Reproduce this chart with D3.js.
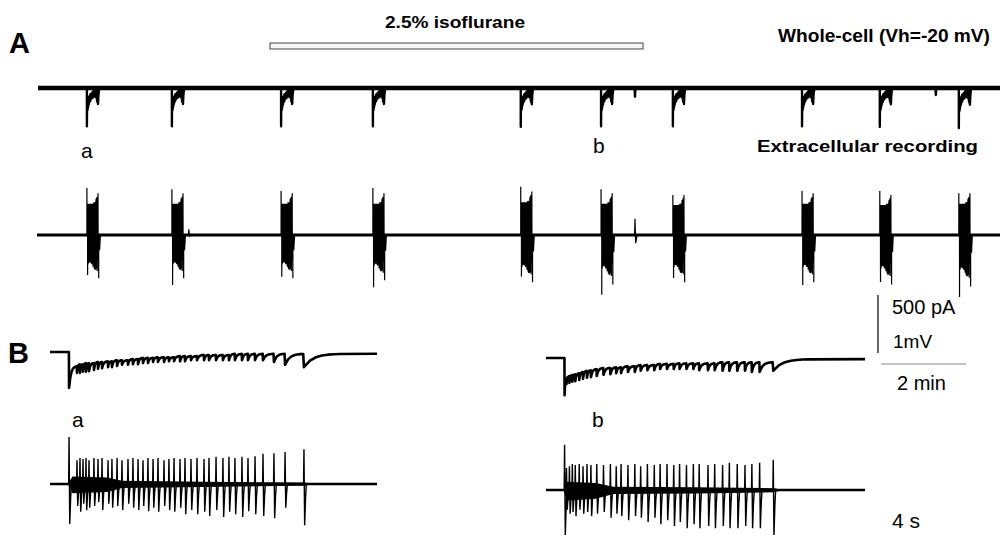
<!DOCTYPE html>
<html>
<head>
<meta charset="utf-8">
<script src="https://cdn.jsdelivr.net/npm/d3@7"></script>
<style>
  body { margin: 0; background: #fff; }
  text { font-family: "Liberation Sans", Arial, sans-serif; fill: #000; }
</style>
</head>
<body>
<script>
// ---- panel A: time in minutes ----
const traceEndA = 22.64;
const isoflurane = [5.46, 14.24];
const eventTimesA = [1.15, 3.15, 5.72, 7.88, 11.36, 13.25, 14.94, 17.98, 19.81, 21.67];
const wcTroughA = [-330, -330, -330, -330, -335, -330, -330, -330, -335, -345]; // pA
const ecFirstUpA = [0.81, 0.79, 0.76, 0.81, 0.83, 0.79, 0.69, 0.76, 0.76, 0.72]; // mV
const ecFirstDownA = [0.69, 0.86, 0.72, 0.90, 0.72, 1.03, 0.74, 0.86, 0.81, 1.07];
const ecBlockUpA = [1.2, 1.2, 1.2, 1.2, 1.25, 1.2, 1.15, 1.2, 1.15, 1.2];
const ecBlockDownA = [1.05, 1.05, 1.05, 1.1, 1.15, 1.2, 1.15, 1.15, 1.2, 1.25];
const wcArtifactsA = [[14.05, -75], [21.13, -60]];
const ecArtifactsA = [[3.55, 0.1, 0.02], [14.05, 0.28, 0.14]];

// ---- panel B: time in seconds from burst onset ----
const traceSpanB = [-1.2, 20.6];
const spikeTimesBa = [0.07, 0.60, 0.80, 1.00, 1.20, 1.40, 1.73, 2.00, 2.27, 2.67, 2.93, 3.27, 3.60, 4.00,
  4.33, 4.67, 5.00, 5.33, 5.67, 6.00, 6.40, 6.73, 7.07, 7.47, 7.80, 8.20, 8.60, 9.07, 9.40, 9.87,
  10.33, 10.73, 11.13, 11.60, 12.00, 12.47, 13.00, 13.73, 14.47, 15.73];
const ecUpBa = [0.81, 0.41, 0.45, 0.43, 0.45, 0.41, 0.45, 0.43, 0.45, 0.41, 0.43, 0.45, 0.41, 0.43,
  0.45, 0.43, 0.41, 0.45, 0.43, 0.45, 0.41, 0.43, 0.45, 0.43, 0.45, 0.43, 0.45, 0.43, 0.45, 0.47,
  0.45, 0.47, 0.45, 0.47, 0.45, 0.48, 0.52, 0.53, 0.55, 0.60];
const ecDownBa = [0.69, 0.38, 0.48, 0.34, 0.45, 0.41, 0.38, 0.31, 0.45, 0.34, 0.41, 0.38, 0.45, 0.34,
  0.41, 0.45, 0.38, 0.47, 0.41, 0.48, 0.38, 0.45, 0.48, 0.41, 0.52, 0.45, 0.52, 0.48, 0.55, 0.45,
  0.57, 0.48, 0.52, 0.57, 0.47, 0.52, 0.55, 0.59, 0.41, 0.71];
const wcTroughBa = [-310, -180, -180, -170, -170, -165, -155, -145, -140, -130, -130, -120, -110, -110,
  -105, -105, -95, -95, -85, -85, -85, -80, -80, -80, -80, -70, -70, -70, -70, -70,
  -70, -70, -70, -70, -70, -70, -70, -85, -110, -130];
const wcRestBa = [-120, -105, -105, -95, -95, -95, -85, -85, -80, -80, -70, -70, -70, -60,
  -60, -50, -50, -50, -45, -45, -45, -45, -35, -35, -35, -35, -25, -25, -25, -25,
  -25, -15, -15, -15, -15, -15, -15, -15, -15, -15];
const noiseEnvBa = [[0.0, 0.0], [0.3, 0.16], [2.6, 0.14], [3.6, 0.07], [9.0, 0.05], [15.8, 0.03], [16.3, 0.0]];

const spikeTimesBb = [0.07, 0.20, 0.40, 0.60, 0.80, 1.07, 1.33, 1.60, 1.87, 2.27, 2.73, 3.20, 3.60,
  3.93, 4.40, 4.87, 5.27, 5.73, 6.20, 6.60, 7.07, 7.53, 7.93, 8.40, 8.87, 9.27, 9.87, 10.33,
  10.87, 11.33, 11.87, 12.40, 12.87, 13.40, 14.33];
const ecUpBb = [0.78, 0.38, 0.41, 0.45, 0.43, 0.45, 0.41, 0.45, 0.43, 0.45, 0.43, 0.45, 0.41, 0.45,
  0.43, 0.45, 0.41, 0.45, 0.43, 0.45, 0.45, 0.43, 0.45, 0.43, 0.45, 0.45, 0.43, 0.45, 0.43, 0.47,
  0.45, 0.43, 0.45, 0.47, 0.52];
const ecDownBb = [0.78, 0.34, 0.41, 0.38, 0.45, 0.34, 0.41, 0.38, 0.45, 0.41, 0.38, 0.48, 0.41, 0.45,
  0.52, 0.45, 0.48, 0.55, 0.48, 0.59, 0.52, 0.62, 0.55, 0.66, 0.59, 0.66, 0.62, 0.66, 0.62, 0.66,
  0.66, 0.62, 0.66, 0.66, 0.79];
const wcTroughBb = [-320, -225, -215, -205, -200, -190, -180, -170, -165, -155, -145, -140, -130, -130,
  -120, -120, -110, -105, -105, -95, -95, -95, -95, -95, -95, -105, -105, -105, -110, -110,
  -110, -110, -120, -120, -110];
const wcRestBb = [-170, -155, -145, -140, -130, -120, -110, -105, -95, -85, -85, -80, -80, -70,
  -70, -60, -60, -60, -50, -50, -50, -45, -45, -45, -45, -45, -45, -35, -35, -35,
  -35, -35, -35, -35, -10];
const noiseEnvBb = [[0.0, 0.0], [0.2, 0.18], [2.2, 0.15], [3.4, 0.07], [9.0, 0.06], [14.4, 0.04], [15.0, 0.0]];

const scaleBarMin = 2, scaleBarPA = 500;

const svg = d3.select("body").append("svg").attr("width", 1004).attr("height", 535);

// current during one burst: sharp dip at each spike, exponential recovery toward the rest level
function burstCurrent(t0, unit, times, troughs, rests, gain, endLevel, tail) {
  const pts = [[t0 + times[0] * unit - 0.01 * unit, 0]];
  times.forEach((s, i) => {
    const t = t0 + s * unit;
    const last = i === times.length - 1;
    const next = last ? t + tail * unit : t0 + times[i + 1] * unit;
    const target = last ? endLevel : rests[i] * gain;
    const tr = troughs[i] * gain;
    pts.push([t, tr]);
    for (let k = 1; k <= 6; k++) {
      const u = k / 6;
      pts.push([t + u * (next - t) * 0.96, target + (tr - target) * Math.exp(-u * 4)]);
    }
  });
  return pts;
}

// biphasic spikes drawn in pixel space (sharp rise, broader negative phase)
function spikePoints(xs, ys, times, ups, downs) {
  const pts = [];
  times.forEach((t, i) => {
    const x = xs(t);
    pts.push([x - 0.4, ys(0)], [x, ys(ups[i])], [x + 0.7, ys(-downs[i])],
      [x + 1.6, ys(-downs[i] * 0.35)], [x + 2.4, ys(0)]);
  });
  return pts;
}

const pxLine = d3.line();

// ================= Panel A =================
const xA = d3.scaleLinear().domain([0, traceEndA]).range([38, 1000]);
const yWcA = d3.scaleLinear().domain([0, -500]).range([88, 146]);
const yEcA = d3.scaleLinear().domain([0, 1]).range([235, 177]);

let wcA = [[0, 0]];
eventTimesA.forEach((t, k) => {
  wcA = wcA.concat(burstCurrent(t, 1 / 60, spikeTimesBa, wcTroughBa, wcRestBa,
    wcTroughA[k] / wcTroughBa[0], 0, 3));
});
wcArtifactsA.forEach(([t, a]) => wcA.push([t - 0.01, 0], [t, a], [t + 0.01, 0]));
wcA.push([traceEndA, 0]);
wcA.sort((a, b) => a[0] - b[0]);

svg.append("line")
  .attr("x1", xA(0)).attr("x2", xA(traceEndA))
  .attr("y1", yWcA(0)).attr("y2", yWcA(0))
  .attr("stroke", "#000").attr("stroke-width", 4.5);
svg.append("path")
  .attr("d", d3.line().x(d => xA(d[0])).y(d => yWcA(d[1]))(wcA))
  .attr("fill", "none").attr("stroke", "#000").attr("stroke-width", 2.4)
  .attr("stroke-linejoin", "round");

svg.append("line")
  .attr("x1", xA(0) - 1).attr("x2", xA(traceEndA))
  .attr("y1", yEcA(0)).attr("y2", yEcA(0))
  .attr("stroke", "#000").attr("stroke-width", 3);
let ecA = [];
eventTimesA.forEach((t, k) => {
  const ups = ecUpBa.map((v, j) => j === 0 ? ecFirstUpA[k] : v * ecBlockUpA[k]);
  const downs = ecDownBa.map((v, j) => j === 0 ? ecFirstDownA[k] : v * ecBlockDownA[k]);
  ecA = ecA.concat(spikePoints(s => xA(t + s / 60), yEcA, spikeTimesBa, ups, downs));
});
ecArtifactsA.forEach(([t, u, d]) => {
  ecA = ecA.concat(spikePoints(xA, yEcA, [t], [u], [d]));
});
ecA.sort((a, b) => a[0] - b[0]);
svg.append("path")
  .attr("d", pxLine(ecA))
  .attr("fill", "none").attr("stroke", "#000").attr("stroke-width", 1.2);

// isoflurane bar
svg.append("rect")
  .attr("x", xA(isoflurane[0])).attr("y", 43)
  .attr("width", xA(isoflurane[1]) - xA(isoflurane[0])).attr("height", 6)
  .attr("fill", "#f6f6f6").attr("stroke", "#444").attr("stroke-width", 1);

// ================= Panel B =================
function panelB(x0, x1, wcBase, ecBase, times, troughs, rests, ups, downs, noise) {
  const xs = d3.scaleLinear().domain(traceSpanB).range([x0, x1]);
  const yWc = d3.scaleLinear().domain([0, -500]).range([wcBase, wcBase + 58]);
  const yEc = d3.scaleLinear().domain([0, 1]).range([ecBase, ecBase - 58]);

  const wc = [[traceSpanB[0], 0]]
    .concat(burstCurrent(0, 1, times, troughs, rests, 1, rests[rests.length - 1], 2.5))
    .concat([[traceSpanB[1], rests[rests.length - 1]]]);
  svg.append("path")
    .attr("d", d3.line().x(d => xs(d[0])).y(d => yWc(d[1]))(wc))
    .attr("fill", "none").attr("stroke", "#000").attr("stroke-width", 2.6)
    .attr("stroke-linejoin", "round");

  svg.append("line")
    .attr("x1", xs(traceSpanB[0])).attr("x2", xs(traceSpanB[1]))
    .attr("y1", yEc(0)).attr("y2", yEc(0))
    .attr("stroke", "#000").attr("stroke-width", 2.5);
  // background activity between spikes
  svg.append("path")
    .attr("d", d3.area().x(d => xs(d[0])).y0(d => yEc(-d[1])).y1(d => yEc(d[1] * 0.8))(noise))
    .attr("fill", "#000");
  svg.append("path")
    .attr("d", pxLine(spikePoints(xs, yEc, times, ups, downs)))
    .attr("fill", "none").attr("stroke", "#000").attr("stroke-width", 1.4);
}
panelB(50, 377, 352, 484, spikeTimesBa, wcTroughBa, wcRestBa, ecUpBa, ecDownBa, noiseEnvBa);
panelB(546, 865, 358, 490, spikeTimesBb, wcTroughBb, wcRestBb, ecUpBb, ecDownBb, noiseEnvBb);

// ================= scale bars =================
const barY = d3.scaleLinear().domain([0, scaleBarPA]).range([353, 295]);
svg.append("line")
  .attr("x1", 878).attr("x2", 878).attr("y1", barY(0)).attr("y2", barY(scaleBarPA))
  .attr("stroke", "#000").attr("stroke-width", 1.2);
svg.append("line")
  .attr("x1", 881).attr("x2", 881 + xA(scaleBarMin) - xA(0)).attr("y1", 364).attr("y2", 364)
  .attr("stroke", "#888").attr("stroke-width", 1.2);

// ================= text =================
const label = (x, y, str, size, weight, len) => {
  const t = svg.append("text").attr("x", x).attr("y", y)
    .style("font-size", size + "px").style("font-weight", weight).text(str);
  if (len) t.attr("textLength", len).attr("lengthAdjust", "spacingAndGlyphs");
  return t;
};
label(9, 53, "A", 29, "bold");
label(8, 363, "B", 29, "bold");
label(385, 28, "2.5% isoflurane", 16.5, "bold", 140);
label(778, 42, "Whole-cell (Vh=-20 mV)", 18, "bold", 212);
label(757, 152, "Extracellular recording", 17, "bold", 221);
label(81, 158, "a", 21, "normal");
label(593, 153, "b", 21, "normal");
label(72, 427, "a", 21, "normal");
label(592, 427, "b", 21, "normal");
label(892, 314, "500 pA", 20, "normal");
label(893, 348, "1mV", 19, "normal");
label(897, 390, "2 min", 20, "normal");
label(892, 528, "4 s", 21, "normal");
</script>
</body>
</html>
